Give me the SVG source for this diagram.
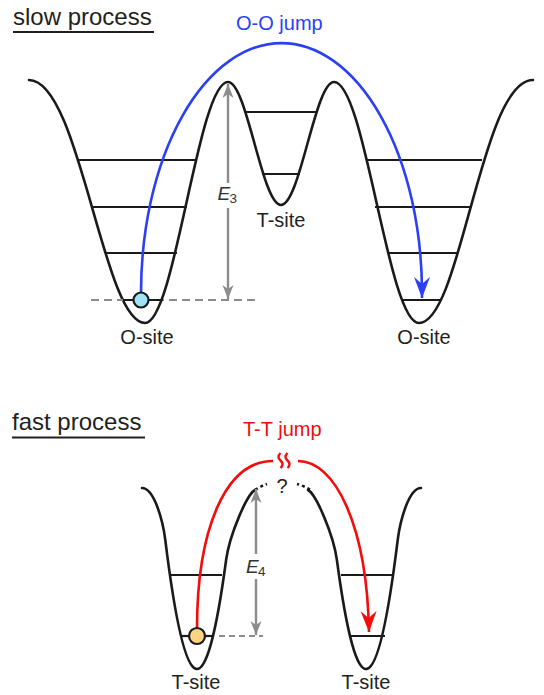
<svg xmlns="http://www.w3.org/2000/svg" width="544" height="695" viewBox="0 0 544 695">
<style>
.pot{fill:none;stroke:#1a1a1a;stroke-width:2.6;stroke-linecap:round}
.lvl{stroke:#1a1a1a;stroke-width:2.2}
.dot{fill:none;stroke:#1a1a1a;stroke-width:2.6;stroke-dasharray:3 3}
.ref{stroke:#8c8c8c;stroke-width:2.2;stroke-dasharray:8 5}
.gar{fill:none;stroke:#8c8c8c;stroke-width:2.4;marker-end:url(#ga)}
.blue{fill:none;stroke:#2b3ff5;stroke-width:2.6;marker-end:url(#ba)}
.red{fill:none;stroke:#f20c0c;stroke-width:2.6}
.redarr{marker-end:url(#ra)}
.lab{font-family:"Liberation Sans",Arial,sans-serif;font-size:20px;fill:#231f20}
.title{font-family:"Liberation Sans",Arial,sans-serif;font-size:24px;fill:#231f20}
.ul{stroke:#231f20;stroke-width:1.8}
.e{font-family:"Liberation Sans",Arial,sans-serif;font-size:19px;font-style:italic;fill:#333}
.sub{font-family:"Liberation Sans",Arial,sans-serif;font-size:13.5px;fill:#333}
.ball{stroke:#1a1a1a;stroke-width:2.2}
</style>
<defs>
<marker id="ga" markerUnits="userSpaceOnUse" markerWidth="14" markerHeight="11" refX="14" refY="5.5" orient="auto" overflow="visible">
<path d="M0,0 L14,5.5 L0,11 L4,5.5 Z" fill="#8c8c8c"/>
</marker>
<marker id="ba" markerUnits="userSpaceOnUse" markerWidth="21" markerHeight="16" refX="21" refY="8" orient="auto" overflow="visible">
<path d="M0,0 L21,8 L0,16 L7,8 Z" fill="#2b3ff5"/>
</marker>
<marker id="ra" markerUnits="userSpaceOnUse" markerWidth="21" markerHeight="16" refX="21" refY="8" orient="auto" overflow="visible">
<path d="M0,0 L21,8 L0,16 L7,8 Z" fill="#f20c0c"/>
</marker>
</defs>

<g id="title-slow">
<text class="title" x="13" y="25">slow process</text>
<line class="ul" x1="13" y1="32" x2="154" y2="32"/>
</g>
<g id="title-fast">
<text class="title" x="12" y="430">fast process</text>
<line class="ul" x1="12" y1="437.5" x2="145" y2="437.5"/>
</g>

<g id="slow-potential">
<path class="pot" d="M29,80 C80,80 103,323 145,323 C175,323 198,82 228,82 C247,82 262,205 281,205 C300,205 315,82 334,82 C365,82 388,323 419,323 C461,323 481,80 533,80"/>
<line class="ref" x1="91" y1="300" x2="257" y2="300"/>
</g>
<g id="o-site-left">
<line class="lvl" x1="79" y1="160" x2="195" y2="160"/>
<line class="lvl" x1="92" y1="207" x2="187" y2="207"/>
<line class="lvl" x1="105" y1="253" x2="177" y2="253"/>
<line class="lvl" x1="123" y1="300" x2="163" y2="300"/>
<text class="lab" x="147" y="344" text-anchor="middle">O-site</text>
</g>
<g id="t-site-top">
<line class="lvl" x1="246" y1="112" x2="317" y2="112"/>
<line class="lvl" x1="262" y1="174" x2="300" y2="174"/>
<text class="lab" x="281" y="227" text-anchor="middle">T-site</text>
</g>
<g id="o-site-right">
<line class="lvl" x1="367" y1="160" x2="482" y2="160"/>
<line class="lvl" x1="375" y1="207" x2="472" y2="207"/>
<line class="lvl" x1="387" y1="253" x2="457" y2="253"/>
<line class="lvl" x1="401" y1="300" x2="440" y2="300"/>
<text class="lab" x="424" y="344" text-anchor="middle">O-site</text>
</g>

<g id="fast-potential">
<path class="pot" d="M142,488 C154,488 162.8,520 165.3,540 Q195.7,787.7 226.1,560 C229.5,535 247,494 255,490"/>
<path class="dot" d="M255,490 Q261,486 267,484"/>
<path class="pot" d="M421,488 C409,488 400.2,520 397.7,540 Q367.3,787.7 336.9,560 C333.5,535 316,494 308,490"/>
<path class="dot" d="M310,489.5 Q304,486 297,484"/>
<text class="lab" x="282" y="493" text-anchor="middle">?</text>
<line class="ref" x1="219" y1="636" x2="263" y2="636" style="stroke-dasharray:6 4"/>
</g>
<g id="t-site-left">
<line class="lvl" x1="171" y1="575" x2="222" y2="575"/>
<line class="lvl" x1="181" y1="636" x2="213" y2="636"/>
<text class="lab" x="196" y="689" text-anchor="middle">T-site</text>
</g>
<g id="t-site-right">
<line class="lvl" x1="341" y1="575" x2="393" y2="575"/>
<line class="lvl" x1="350" y1="636" x2="385" y2="636"/>
<text class="lab" x="366" y="689" text-anchor="middle">T-site</text>
</g>

<g id="connectors">
<path class="blue" d="M141,293 A140.5,250 0 0 1 422,293 L422,298"/>
<path class="gar" d="M228,183 L228,84"/>
<path class="gar" d="M228,208 L228,299"/>
<path class="red" d="M197,629 C197,530 225,461 273,461"/>
<path class="red redarr" d="M298,461 C335,461 367,525 369,632"/>
<path class="red" d="M280.5,453 Q276.5,457 280.5,460.5 Q284.5,464 280.5,468 M287.5,453 Q283.5,457 287.5,460.5 Q291.5,464 287.5,468" style="stroke-width:2.4"/>
<path class="gar" d="M256,554 L256,489"/>
<path class="gar" d="M256,579 L256,635"/>
</g>

<g id="labels">
<text x="236" y="29.5" class="lab" style="fill:#2b3ff5">O-O jump</text>
<text x="243" y="436" class="lab" style="fill:#f20c0c">T-T jump</text>
<text class="e" x="217.5" y="200">E</text><text class="sub" x="229.5" y="203">3</text>
<text class="e" x="246" y="573">E</text><text class="sub" x="258" y="576">4</text>
</g>

<g id="particles">
<circle class="ball" cx="141" cy="300" r="7.5" fill="#a0e2f6"/>
<circle class="ball" cx="197" cy="636" r="8" fill="#fcd383"/>
</g>
</svg>
